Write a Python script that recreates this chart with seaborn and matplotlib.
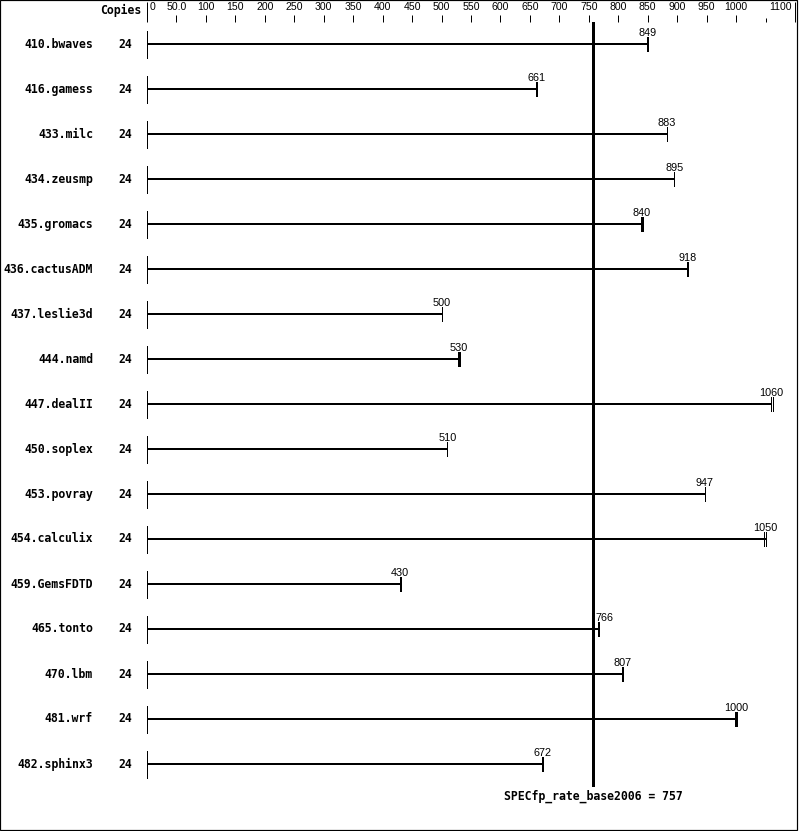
import matplotlib
matplotlib.use("Agg")
import matplotlib.pyplot as plt
import matplotlib.transforms as mtransforms
from matplotlib.patches import Rectangle
import seaborn as sns
import pandas as pd
import numpy as np

# ---------------- data ----------------
benchmarks = ["410.bwaves", "416.gamess", "433.milc", "434.zeusmp", "435.gromacs",
              "436.cactusADM", "437.leslie3d", "444.namd", "447.dealII", "450.soplex",
              "453.povray", "454.calculix", "459.GemsFDTD", "465.tonto", "470.lbm",
              "481.wrf", "482.sphinx3"]
copies = [24, 24, 24, 24, 24, 24, 24, 24, 24, 24, 24, 24, 24, 24, 24, 24, 24]
base_ratio = [849, 661, 883, 895, 840, 918, 500, 530, 1060, 510, 947, 1050, 430, 766, 807, 1000, 672]
run_low = [848, 660, 883, 895, 838, 917, 500, 528, 1059, 510, 947, 1047, 429, 755, 806, 998, 671]
run_high = [850, 662, 883, 895, 842, 919, 500, 532, 1063, 510, 947, 1051, 431, 767, 808, 1002, 673]
overall = 757
overall_label = "SPECfp_rate_base2006 = 757"
tick_values = [0, 50, 100, 150, 200, 250, 300, 350, 400, 450, 500, 550, 600, 650,
               700, 750, 800, 850, 900, 950, 1000, 1100]
tick_labels = ["0", "50.0", "100", "150", "200", "250", "300", "350", "400", "450", "500",
               "550", "600", "650", "700", "750", "800", "850", "900", "950", "1000", "1100"]
minor_ticks = [1050]

# ---------------- style ----------------
sns.set_theme(style="white")
plt.rcParams["font.family"] = ["Liberation Sans", "DejaVu Sans"]
MONO = "DejaVu Sans Mono"
PX = 0.72  # one pixel in points at 100 dpi

W, H = 799, 831
fig = plt.figure(figsize=(W / 100, H / 100), dpi=100)
fig.patch.set_facecolor("white")
ax = fig.add_axes([147 / W, 1 - 786.5 / H, 648 / W, 765 / H])
ax.set_facecolor("white")

df = pd.DataFrame({"benchmark": benchmarks, "ratio": base_ratio})
sns.barplot(data=df, x="ratio", y="benchmark", orient="h", color="black",
            width=2.6 / 45, errorbar=None, saturation=1, linewidth=0,
            edgecolor="none", ax=ax)

rows = np.arange(len(benchmarks))
# row-wise axis segments at zero
ax.vlines(np.zeros(len(rows)), rows - 0.3, rows + 0.3, color="black",
          lw=PX, antialiased=False)
# run ticks
for i in rows:
    xs = [run_low[i], base_ratio[i], run_high[i]]
    ax.vlines(xs, i - 0.155, i + 0.155, color="black", lw=PX, antialiased=False)

# reference line
ax.axvline(overall, color="black", lw=2.6 * PX, antialiased=False)

# labels
for i in rows:
    v = base_ratio[i]
    if abs(v - overall) < 15:
        ax.annotate(str(v), (overall, i), xytext=(2.2, 5.8),
                    textcoords="offset points", ha="left", va="baseline",
                    fontsize=7.8, color="black")
    else:
        ax.annotate(str(v), (v, i), xytext=(0, 5.8),
                    textcoords="offset points", ha="center", va="baseline",
                    fontsize=7.8, color="black")
    ax.annotate(benchmarks[i], (0, i), xytext=(-38.9, 0), textcoords="offset points",
                ha="right", va="center", family=MONO, fontweight="bold",
                fontsize=8.3, color="black", annotation_clip=False)
    ax.annotate(str(copies[i]), (0, i), xytext=(-15.8, 0), textcoords="offset points",
                ha="center", va="center", family=MONO, fontweight="bold",
                fontsize=8.3, color="black", annotation_clip=False)

fig.text(121 / W, 1 - 10 / H, "Copies", ha="center", va="center", family=MONO,
         fontweight="bold", fontsize=8.3, color="black")

ax.annotate(overall_label, (overall, 0), xycoords=("data", "axes fraction"),
            xytext=(0, -7), textcoords="offset points", ha="center", va="center",
            family=MONO, fontweight="bold", fontsize=8.3, color="black",
            annotation_clip=False)

# axes
ax.set_xlim(0, 1100)
ax.set_ylim(len(benchmarks) - 0.5, -0.5)
ax.set_xlabel("")
ax.set_ylabel("")
ax.set_yticks([])
for s in ax.spines.values():
    s.set_visible(False)
ax.xaxis.tick_top()
ax.set_xticks(tick_values, tick_labels)
ax.set_xticks(minor_ticks, minor=True)
ax.tick_params(axis="x", which="major", direction="out", length=5, width=PX,
               pad=1.5, labelsize=7.6, colors="black", top=True, bottom=False)
ax.tick_params(axis="x", which="minor", direction="out", length=3, width=PX,
               top=True, bottom=False, colors="black")
ax.grid(False)

mt = ax.xaxis.get_major_ticks()
for t in mt + ax.xaxis.get_minor_ticks():
    t.tick2line.set_antialiased(False)
for t in (mt[0], mt[-1]):
    t.tick2line.set_markersize(14.4)
mt[0].label2.set_ha("left")
mt[0].label2.set_transform(mt[0].label2.get_transform() +
                           mtransforms.ScaledTranslation(3 / 100, 0, fig.dpi_scale_trans))
mt[-1].label2.set_ha("right")
mt[-1].label2.set_transform(mt[-1].label2.get_transform() +
                            mtransforms.ScaledTranslation(-3 / 100, 0, fig.dpi_scale_trans))

# frame
frame = Rectangle((0.5 / W, 0.5 / H), 797 / W, 830 / H, transform=fig.transFigure,
                  fill=False, ec="black", lw=PX * 1.2, antialiased=True)
frame.set_snap(False)
fig.add_artist(frame)

fig.savefig("out.png", dpi=100, facecolor="white")
